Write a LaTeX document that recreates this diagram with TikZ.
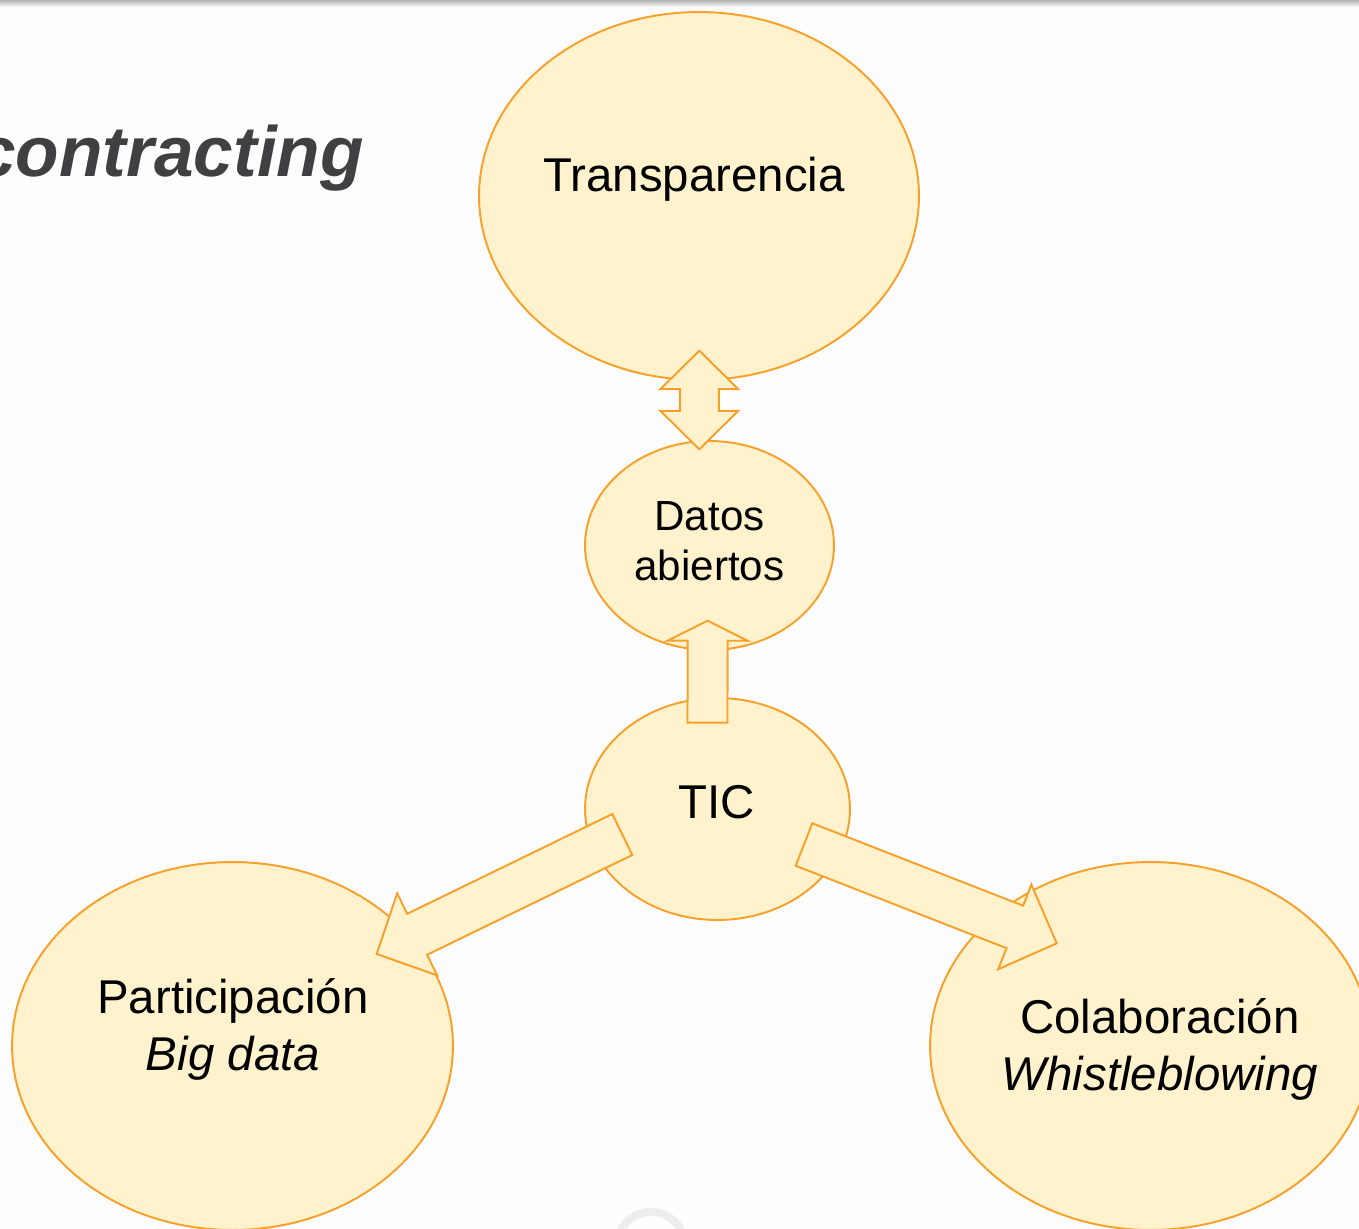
\documentclass[tikz,border=0pt]{standalone}
\usepackage{fontspec}
\setmainfont{Liberation Sans}
\usetikzlibrary{shapes.geometric,calc}

\definecolor{bubblefill}{HTML}{FFF2CC}
\definecolor{bubbleline}{HTML}{F8A02A}
\definecolor{titlegray}{HTML}{404043}
\definecolor{pagebg}{HTML}{FDFDFD}

% tail, tip, half shaft, half head, head length
\newcommand{\blockarrow}[5]{%
  \coordinate (hb) at ($(#2)!#5!(#1)$);
  \draw[arrowfill] ($(#1)!#3!90:(#2)$) -- ($(hb)!#3!90:(#2)$) -- ($(hb)!#4!90:(#2)$) -- (#2)
    -- ($(hb)!#4!-90:(#2)$) -- ($(hb)!#3!-90:(#2)$) -- ($(#1)!#3!-90:(#2)$) -- cycle;}
% end a, end b, half shaft, half head, head length
\newcommand{\dblarrow}[5]{%
  \coordinate (ha) at ($(#1)!#5!(#2)$);
  \coordinate (hb) at ($(#2)!#5!(#1)$);
  \draw[arrowfill] (#1) -- ($(ha)!#4!90:(#2)$) -- ($(ha)!#3!90:(#2)$) -- ($(hb)!#3!90:(#2)$)
    -- ($(hb)!#4!90:(#2)$) -- (#2) -- ($(hb)!#4!-90:(#2)$) -- ($(hb)!#3!-90:(#2)$)
    -- ($(ha)!#3!-90:(#2)$) -- ($(ha)!#4!-90:(#2)$) -- cycle;}

\begin{document}
\begin{tikzpicture}[x=0.02cm, y=-0.02cm,
  bubble/.style = {ellipse, draw=bubbleline, fill=bubblefill,
    line width=1.1pt, inner sep=0pt},
  arrowfill/.style = {draw=bubbleline, fill=bubblefill, line width=1.1pt},
  bigtxt/.style = {anchor=base, align=center, font=\fontsize{27}{32.4}\selectfont},
  midtxt/.style = {anchor=base, align=center, font=\fontsize{24}{28.7}\selectfont}]
  \useasboundingbox (0,0) rectangle (1359,1229);
  \clip (0,0) rectangle (1359,1229);
  \fill[pagebg] (0,0) rectangle (1359,1229);
  \shade[top color=black!30, bottom color=pagebg] (0,0) rectangle (1359,7);
  \draw[black!7, line width=4.5pt] (651,1246) circle (34);

  % title
  \node[anchor=base east, text=titlegray,
    font=\fontsize{40.5}{48}\selectfont\bfseries\itshape] (title) at (370,177) {contracting};

  % bubbles
  \node[bubble, minimum width=8.8cm, minimum height=7.36cm] (transp) at (699,196) {};
  \node[bubble, minimum width=4.98cm, minimum height=4.18cm] (datos) at (709.5,545.5) {};
  \node[bubble, minimum width=5.3cm, minimum height=4.44cm] (tic) at (717.5,809) {};
  \node[bubble, minimum width=8.82cm, minimum height=7.36cm] (part) at (232.5,1046) {};
  \node[bubble, minimum width=8.82cm, minimum height=7.36cm] (colab) at (1150.5,1046) {};

  % block arrows
  \coordinate (dbl-a) at (699.3,350.7);
  \coordinate (dbl-b) at (699.3,449.3);
  \dblarrow{dbl-a}{dbl-b}{0.39cm}{0.78cm}{0.77cm}
  \coordinate (up-tail) at (707.5,722.7);
  \coordinate (up-tip) at (707.6,620.7);
  \blockarrow{up-tail}{up-tip}{0.4cm}{0.8cm}{0.4cm}
  \coordinate (left-tail) at (622.3,834.5);
  \coordinate (left-tip) at (376.7,954);
  \blockarrow{left-tail}{left-tip}{0.456cm}{0.912cm}{0.9cm}
  \coordinate (right-tail) at (804,844.5);
  \coordinate (right-tip) at (1056.7,943.3);
  \blockarrow{right-tail}{right-tip}{0.456cm}{0.91cm}{0.9cm}

  % labels (base = last line)
  \node[bigtxt] (transp-txt) at (694,192) {Transparencia};
  \node[midtxt] (datos-txt) at (709.5,581) {Datos\\abiertos};
  \node[bigtxt] (tic-txt) at (717,818) {TIC};
  \node[bigtxt] (part-txt) at (233,1070) {Participación\\\textit{Big data}};
  \node[bigtxt] (colab-txt) at (1160,1090) {Colaboración\\\textit{Whistleblowing}};
\end{tikzpicture}
\end{document}
